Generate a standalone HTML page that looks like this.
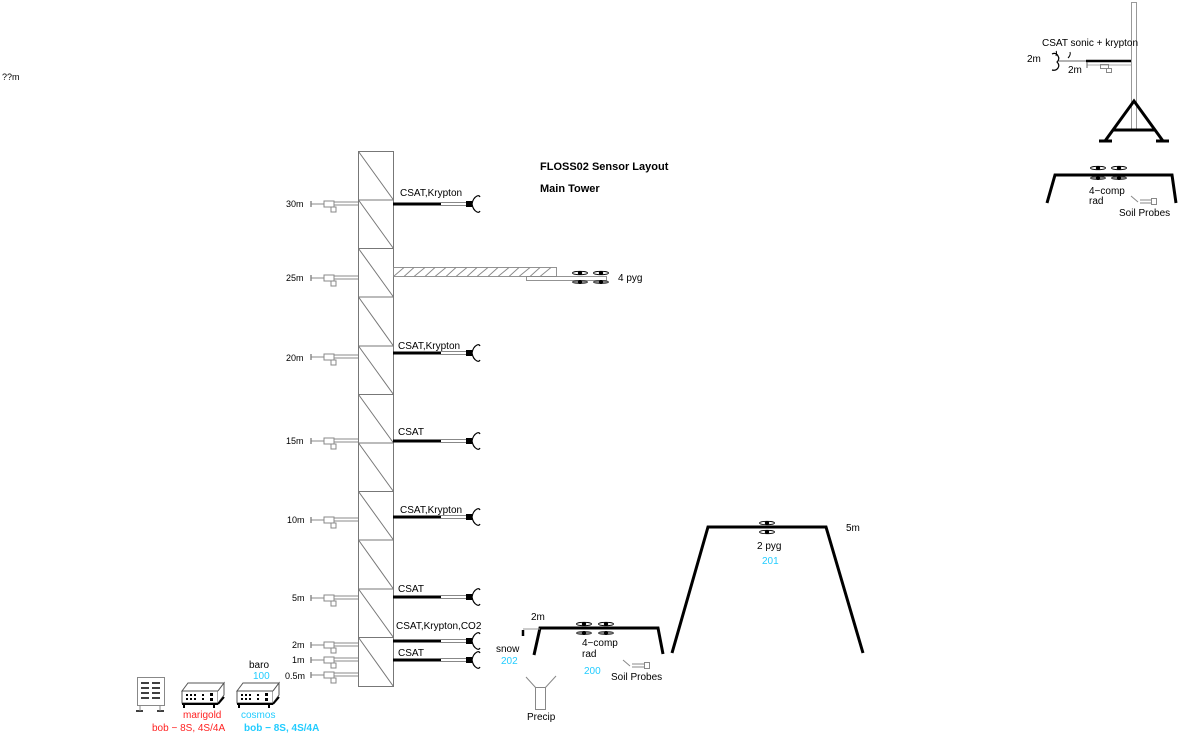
<!DOCTYPE html>
<html><head><meta charset="utf-8"><style>
html,body{margin:0;padding:0;background:#fff;}
svg{display:block;font-family:"Liberation Sans",sans-serif;}
text{font-size:10px;fill:#000;}
</style></head><body>
<svg width="1188" height="736" viewBox="0 0 1188 736" xmlns="http://www.w3.org/2000/svg">
<defs>
<g id="boom">
  <line x1="0" y1="0" x2="48" y2="0" stroke="#000" stroke-width="3"/>
  <line x1="48" y1="-1.5" x2="74" y2="-1.5" stroke="#888" stroke-width="1"/>
  <line x1="48" y1="1.5" x2="74" y2="1.5" stroke="#888" stroke-width="1"/>
  <rect x="73" y="-3" width="6" height="6" fill="#000"/>
  <path d="M87,-7 q-1,-2 -3,-1 q-4,2 -5,8 q1,6 5,8 q2,1 3,-1" fill="none" stroke="#000" stroke-width="1.2"/>
</g>
<g id="gauge">
  <line x1="-47" y1="-3" x2="-47" y2="3" stroke="#555"/>
  <line x1="-47" y1="0" x2="-34" y2="0" stroke="#888"/>
  <line x1="-24" y1="-2" x2="0" y2="-2" stroke="#888"/>
  <line x1="-24" y1="1" x2="0" y2="1" stroke="#888"/>
  <rect x="-34" y="-3" width="10" height="6" fill="none" stroke="#888"/>
  <rect x="-27" y="3" width="5" height="5" fill="none" stroke="#888"/>
</g>
<g id="pyr">
  <ellipse cx="0" cy="0" rx="7.5" ry="1.7" fill="none" stroke="#000" stroke-width="0.8"/>
  <ellipse cx="0" cy="0" rx="2.2" ry="2" fill="#000"/>
</g>
<g id="pyrd">
  <ellipse cx="0" cy="0" rx="7.5" ry="1.5" fill="#888" stroke="#333" stroke-width="0.8"/>
  <ellipse cx="0" cy="0" rx="2.2" ry="2" fill="#000"/>
</g>
<g id="logger">
  <path d="M2,8 L8,0 L44,0 L38,8 Z" fill="#fff" stroke="#555"/>
  <rect x="2" y="8" width="36" height="12" fill="#fff" stroke="#555"/>
  <path d="M38,8 L44,0 L44,12 L38,20" fill="#fff" stroke="#555"/>
  <g fill="#000"><rect x="6" y="11" width="2" height="2"/><rect x="10" y="11" width="2" height="2"/><rect x="14" y="11" width="2" height="2"/><rect x="22" y="11" width="2" height="2"/><rect x="30" y="10" width="3" height="3"/><rect x="6" y="15" width="2" height="2"/><rect x="10" y="15" width="2" height="2"/><rect x="14" y="15" width="2" height="2"/><rect x="22" y="15" width="2" height="2"/><rect x="30" y="15" width="3" height="3"/></g>
  <line x1="2" y1="21" x2="38" y2="21" stroke="#000" stroke-width="2"/>
  <line x1="38" y1="21" x2="44" y2="14" stroke="#000" stroke-width="2"/>
  <line x1="4" y1="21" x2="4" y2="25" stroke="#000" stroke-width="2"/>
  <line x1="34" y1="21" x2="34" y2="25" stroke="#000" stroke-width="2"/>
</g>
</defs>

<text x="2" y="80" style="font-size:9px">??m</text>

<text x="540" y="170" style="font-weight:bold;font-size:11px">FLOSS02 Sensor Layout</text>
<text x="540" y="192" style="font-weight:bold;font-size:11px">Main Tower</text>

<g stroke="#777" stroke-width="1" fill="none">
  <rect x="358.5" y="151.5" width="35" height="535"/>
  <path d="M358.5,200 H393.5 M358.5,248.5 H393.5 M358.5,297 H393.5 M358.5,346 H393.5 M358.5,394.5 H393.5 M358.5,443 H393.5 M358.5,491.5 H393.5 M358.5,540 H393.5 M358.5,589 H393.5 M358.5,637.5 H393.5"/>
  <path d="M358.5,151.5 L393.5,200 M358.5,200 L393.5,248.5 M358.5,248.5 L393.5,297 M358.5,297 L393.5,346 M358.5,346 L393.5,394.5 M358.5,394.5 L393.5,443 M358.5,443 L393.5,491.5 M358.5,491.5 L393.5,540 M358.5,540 L393.5,589 M358.5,589 L393.5,637.5 M358.5,637.5 L393.5,686.5"/>
</g>

<use href="#boom" transform="translate(393,204)"/>
<text x="400" y="196">CSAT,Krypton</text>
<use href="#boom" transform="translate(393,353)"/>
<text x="398" y="349">CSAT,Krypton</text>
<use href="#boom" transform="translate(393,441)"/>
<text x="398" y="435">CSAT</text>
<use href="#boom" transform="translate(393,517)"/>
<text x="400" y="513">CSAT,Krypton</text>
<use href="#boom" transform="translate(393,597)"/>
<text x="398" y="592">CSAT</text>
<use href="#boom" transform="translate(393,641)"/>
<text x="396" y="629">CSAT,Krypton,CO2</text>
<use href="#boom" transform="translate(393,660)"/>
<text x="398" y="656">CSAT</text>

<g stroke="#888" fill="none" stroke-width="0.9">
  <rect x="393.5" y="267.5" width="163" height="9"/>
  <path d="M393.5,276.5 L404,267.5 M404,276.5 L414,267.5 M414,276.5 L425,267.5 M425,276.5 L435,267.5 M435,276.5 L446,267.5 M446,276.5 L456,267.5 M456,276.5 L467,267.5 M467,276.5 L477,267.5 M477,276.5 L488,267.5 M488,276.5 L498,267.5 M498,276.5 L509,267.5 M509,276.5 L519,267.5 M519,276.5 L530,267.5 M530,276.5 L540,267.5 M540,276.5 L551,267.5"/>
  <rect x="526.5" y="276.5" width="80" height="4"/>
</g>
<use href="#pyr" transform="translate(580,273)"/>
<use href="#pyr" transform="translate(601,273)"/>
<use href="#pyrd" transform="translate(580,282)"/>
<use href="#pyrd" transform="translate(601,282)"/>
<text x="618" y="281">4 pyg</text>

<use href="#gauge" transform="translate(358,204)"/><text x="286" y="207" style="font-size:9px">30m</text>
<use href="#gauge" transform="translate(358,278)"/><text x="286" y="281" style="font-size:9px">25m</text>
<use href="#gauge" transform="translate(358,357)"/><text x="286" y="361" style="font-size:9px">20m</text>
<use href="#gauge" transform="translate(358,441)"/><text x="286" y="444" style="font-size:9px">15m</text>
<use href="#gauge" transform="translate(358,520)"/><text x="287" y="523" style="font-size:9px">10m</text>
<use href="#gauge" transform="translate(358,598)"/><text x="292" y="601" style="font-size:9px">5m</text>
<use href="#gauge" transform="translate(358,645)"/><text x="292" y="648" style="font-size:9px">2m</text>
<use href="#gauge" transform="translate(358,660)"/><text x="292" y="663" style="font-size:9px">1m</text>
<use href="#gauge" transform="translate(358,675)"/><text x="285" y="679" style="font-size:9px">0.5m</text>

<rect x="137.5" y="677.5" width="27" height="28" fill="#fff" stroke="#888"/>
<g stroke="#000" stroke-width="1.5">
  <line x1="141" y1="683" x2="149" y2="683"/><line x1="152" y1="683" x2="160" y2="683"/>
  <line x1="141" y1="688" x2="149" y2="688"/><line x1="152" y1="688" x2="160" y2="688"/>
  <line x1="141" y1="693" x2="149" y2="693"/><line x1="152" y1="693" x2="160" y2="693"/>
  <line x1="141" y1="698" x2="149" y2="698"/><line x1="152" y1="698" x2="160" y2="698"/>
  <line x1="136" y1="711" x2="143" y2="711"/><line x1="157" y1="711" x2="164" y2="711"/>
</g>
<line x1="140" y1="705" x2="140" y2="711" stroke="#888"/><line x1="160" y1="705" x2="160" y2="711" stroke="#888"/>
<use href="#logger" transform="translate(180,683)"/>
<use href="#logger" transform="translate(235,683)"/>
<text x="183" y="718" style="fill:#f22">marigold</text>
<text x="152" y="731" style="fill:#f22">bob − 8S, 4S/4A</text>
<text x="241" y="718" style="fill:#2cf">cosmos</text>
<text x="244" y="731" style="fill:#2cf;font-weight:bold">bob − 8S, 4S/4A</text>
<text x="249" y="668">baro</text>
<text x="253" y="679" style="fill:#2cf">100</text>

<path d="M534,655 L540,628 L658,628 L663,654" stroke="#000" stroke-width="3" fill="none"/>
<line x1="523" y1="630" x2="523" y2="636" stroke="#000" stroke-width="2.5"/>
<line x1="523" y1="629" x2="540" y2="629" stroke="#999"/>
<text x="531" y="620">2m</text>
<use href="#pyr" transform="translate(584,624)"/>
<use href="#pyr" transform="translate(606,624)"/>
<use href="#pyrd" transform="translate(584,633)"/>
<use href="#pyrd" transform="translate(606,633)"/>
<text x="582" y="646">4−comp</text>
<text x="582" y="657">rad</text>
<text x="584" y="674" style="fill:#2cf">200</text>
<text x="496" y="652">snow</text>
<text x="501" y="664" style="fill:#2cf">202</text>
<g stroke="#888" fill="none">
  <line x1="623" y1="660" x2="630" y2="666"/>
  <line x1="632" y1="664" x2="644" y2="664"/><line x1="632" y1="667" x2="644" y2="667"/>
  <rect x="644.5" y="662.5" width="5" height="6"/>
  <rect x="535.5" y="687.5" width="10" height="22"/>
  <line x1="526" y1="677" x2="536" y2="688"/><line x1="556" y1="676" x2="545" y2="688"/>
</g>
<text x="611" y="680">Soil Probes</text>
<text x="527" y="720">Precip</text>

<path d="M672,653 L708,527 L826,527 L863,653" stroke="#000" stroke-width="3" fill="none"/>
<use href="#pyr" transform="translate(767,523)"/>
<use href="#pyr" transform="translate(767,532)"/>
<text x="757" y="549">2 pyg</text>
<text x="762" y="564" style="fill:#2cf">201</text>
<text x="846" y="531">5m</text>

<rect x="1131.5" y="2.5" width="5" height="128" fill="#fff" stroke="#999"/>
<g stroke="#000" stroke-width="3" fill="none">
  <path d="M1105,141 L1134,101 L1163,141"/>
  <line x1="1113" y1="130" x2="1155" y2="130"/>
  <line x1="1099" y1="141" x2="1112" y2="141"/>
  <line x1="1156" y1="141" x2="1169" y2="141"/>
</g>
<line x1="1086" y1="61" x2="1131" y2="61" stroke="#000" stroke-width="2.5"/>
<line x1="1058" y1="61" x2="1086" y2="61" stroke="#666"/>
<path d="M1052,54 q4,-2 6,2 q2,3 -1,6 q3,3 1,6 q-2,3 -6,2" fill="none" stroke="#000" stroke-width="1.2"/>
<path d="M1056,56 q1,-4 0,-5 M1068,58 q3,-3 2,-6" fill="none" stroke="#000"/>
<line x1="1087" y1="65" x2="1131" y2="65" stroke="#aaa"/>
<line x1="1087" y1="62" x2="1087" y2="68" stroke="#666"/>
<rect x="1100.5" y="64.5" width="8" height="4" fill="none" stroke="#888"/>
<rect x="1106.5" y="68.5" width="5" height="4" fill="none" stroke="#888"/>
<text x="1042" y="46">CSAT sonic + krypton</text>
<text x="1027" y="62">2m</text>
<text x="1068" y="73">2m</text>

<path d="M1047,203 L1055,175 L1172,175 L1176,203" stroke="#000" stroke-width="3" fill="none"/>
<use href="#pyr" transform="translate(1098,168)"/>
<use href="#pyr" transform="translate(1119,168)"/>
<use href="#pyrd" transform="translate(1098,178)"/>
<use href="#pyrd" transform="translate(1119,178)"/>
<text x="1089" y="194">4−comp</text>
<text x="1089" y="204">rad</text>
<g stroke="#888" fill="none">
  <line x1="1131" y1="196" x2="1138" y2="202"/>
  <line x1="1140" y1="200" x2="1151" y2="200"/><line x1="1140" y1="203" x2="1151" y2="203"/>
  <rect x="1151.5" y="198.5" width="5" height="6"/>
</g>
<text x="1119" y="216">Soil Probes</text>
</svg>
</body></html>
